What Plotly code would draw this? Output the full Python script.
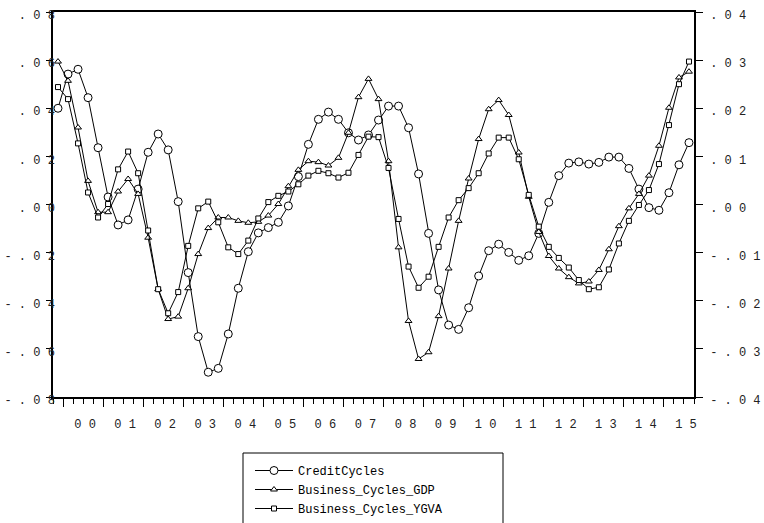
import plotly.graph_objects as go

# Quarterly sample 1999Q4 .. 2015Q3 (64 observations)
start_year, start_quarter = 1999, 4
n_obs = 64

credit_cycles = [
    0.0400, 0.0542, 0.0562, 0.0444, 0.0236, 0.0031, -0.0085, -0.0064,
    0.0064, 0.0217, 0.0293, 0.0227, 0.0012, -0.0283, -0.0549, -0.0697,
    -0.0681, -0.0538, -0.0348, -0.0196, -0.0118, -0.0096, -0.0074, -0.0006,
    0.0116, 0.0250, 0.0354, 0.0384, 0.0354, 0.0298, 0.0268, 0.0289,
    0.0351, 0.0409, 0.0409, 0.0319, 0.0127, -0.0120, -0.0355, -0.0501,
    -0.0519, -0.0429, -0.0297, -0.0192, -0.0165, -0.0199, -0.0232, -0.0213,
    -0.0120, 0.0009, 0.0120, 0.0172, 0.0177, 0.0168, 0.0175, 0.0197,
    0.0197, 0.0150, 0.0064, -0.0013, -0.0024, 0.0049, 0.0165, 0.0257,
]

business_cycles_gdp = [
    0.0297, 0.0257, 0.0160, 0.0049, -0.0016, -0.0016, 0.0027, 0.0053,
    0.0022, -0.0069, -0.0176, -0.0238, -0.0233, -0.0174, -0.0103, -0.0049,
    -0.0027, -0.0027, -0.0034, -0.0038, -0.0036, -0.0023, 0.0001, 0.0038,
    0.0072, 0.0090, 0.0088, 0.0081, 0.0097, 0.0149, 0.0223, 0.0261,
    0.0219, 0.0090, -0.0089, -0.0242, -0.0321, -0.0307, -0.0232, -0.0133,
    -0.0034, 0.0054, 0.0136, 0.0198, 0.0217, 0.0186, 0.0108, 0.0016,
    -0.0057, -0.0107, -0.0133, -0.0151, -0.0164, -0.0160, -0.0136, -0.0093,
    -0.0045, -0.0008, 0.0022, 0.0060, 0.0122, 0.0201, 0.0264, 0.0276,
]

business_cycles_ygva = [
    0.0244, 0.0219, 0.0127, 0.0025, -0.0027, 0.0001, 0.0073, 0.0110,
    0.0065, -0.0054, -0.0176, -0.0226, -0.0182, -0.0086, -0.0008, 0.0006,
    -0.0037, -0.0089, -0.0103, -0.0075, -0.0029, 0.0005, 0.0018, 0.0027,
    0.0042, 0.0060, 0.0070, 0.0065, 0.0056, 0.0066, 0.0103, 0.0141,
    0.0140, 0.0076, -0.0030, -0.0129, -0.0173, -0.0150, -0.0088, -0.0027,
    0.0009, 0.0034, 0.0065, 0.0106, 0.0139, 0.0139, 0.0094, 0.0020,
    -0.0046, -0.0088, -0.0111, -0.0131, -0.0157, -0.0176, -0.0172, -0.0135,
    -0.0081, -0.0034, -0.0001, 0.0030, 0.0084, 0.0165, 0.0250, 0.0297,
]

years = list(range(2000, 2016))
year_labels = ["0 0", "0 1", "0 2", "0 3", "0 4", "0 5", "0 6", "0 7",
               "0 8", "0 9", "1 0", "1 1", "1 2", "1 3", "1 4", "1 5"]

left_ticks = [-0.08, -0.06, -0.04, -0.02, 0.00, 0.02, 0.04, 0.06, 0.08]
left_labels = ["- . 0 8", "- . 0 6", "- . 0 4", "- . 0 2", ". 0 0",
               ". 0 2", ". 0 4", ". 0 6", ". 0 8"]
right_ticks = [-0.04, -0.03, -0.02, -0.01, 0.00, 0.01, 0.02, 0.03, 0.04]
right_labels = ["- . 0 4", "- . 0 3", "- . 0 2", "- . 0 1", ". 0 0",
                ". 0 1", ". 0 2", ". 0 3", ". 0 4"]

# Each observation sits in the middle of its quarter on a fractional-year axis
x = []
for k in range(n_obs):
    idx = (start_quarter - 1) + k
    yr, q = start_year + idx // 4, idx % 4 + 1
    x.append(yr + (q - 0.5) / 4)

x_lo, x_hi = x[0] - 0.125, x[-1] + 0.125
mono = "Liberation Mono, Courier New, monospace"

W, H = 764, 523
L, R, T, B = 53, 70, 12, 126
plot_w = W - L - R  # width of one year = plot_w / 16

fig = go.Figure()
fig.add_trace(go.Scatter(
    x=x, y=credit_cycles, name="CreditCycles", mode="lines+markers",
    line=dict(color="black", width=1),
    marker=dict(symbol="circle", size=8, color="white",
                line=dict(color="black", width=1)),
    yaxis="y"))
fig.add_trace(go.Scatter(
    x=x, y=business_cycles_gdp, name="Business_Cycles_GDP", mode="lines+markers",
    line=dict(color="black", width=1),
    marker=dict(symbol="triangle-up", size=6, color="white",
                line=dict(color="black", width=1)),
    yaxis="y2"))
fig.add_trace(go.Scatter(
    x=x, y=business_cycles_ygva, name="Business_Cycles_YGVA", mode="lines+markers",
    line=dict(color="black", width=1),
    marker=dict(symbol="square", size=5, color="white",
                line=dict(color="black", width=1)),
    yaxis="y2"))

axis_font = dict(family=mono, size=12, color="#222222")

fig.update_layout(
    width=W, height=H,
    margin=dict(l=L, r=R, t=T, b=B, autoexpand=False),
    paper_bgcolor="white", plot_bgcolor="white",
    font=dict(family=mono, size=12, color="black"),
    xaxis=dict(
        range=[x_lo, x_hi], showgrid=False, zeroline=False, automargin=False,
        showline=True, linecolor="black", linewidth=1.5, mirror=True,
        tickmode="array", tickvals=years, ticktext=year_labels,
        ticklabelshift=round(plot_w / 16 / 2) + 2, ticklabelstandoff=7,
        tickfont=axis_font,
        ticks="outside", ticklen=8, tickwidth=1, tickcolor="black",
        minor=dict(ticks="outside", tick0=x_lo, dtick=0.25, ticklen=5,
                   tickwidth=1, tickcolor="black", showgrid=False),
    ),
    yaxis=dict(
        range=[-0.08, 0.08], showgrid=False, zeroline=False, automargin=False,
        showline=True, linecolor="black", linewidth=1.5,
        tickmode="array", tickvals=left_ticks, ticktext=left_labels,
        tickfont=axis_font, ticks="outside", ticklen=5, tickcolor="black",
        ticklabelstandoff=-11, ticklabelshift=3,
    ),
    yaxis2=dict(
        overlaying="y", side="right", anchor="x", automargin=False,
        range=[-0.04, 0.04], showgrid=False, zeroline=False,
        showline=True, linecolor="black", linewidth=1.5,
        tickmode="array", tickvals=right_ticks, ticktext=right_labels,
        tickfont=axis_font, ticks="outside", ticklen=7, tickcolor="black",
        ticklabelstandoff=5, ticklabelshift=3,
    ),
    legend=dict(
        xref="container", yref="container",
        x=250 / W, y=1 - 456 / H, xanchor="left", yanchor="top",
        orientation="v", bgcolor="rgba(0,0,0,0)", borderwidth=0,
        font=dict(family=mono, size=12, color="black"),
        itemwidth=38, tracegroupgap=0,
    ),
    shapes=[dict(
        type="rect", xref="paper", yref="paper",
        x0=(243 - L) / plot_w, x1=(503 - L) / plot_w,
        y0=-(453 - (H - B)) / (H - T - B), y1=-(560 - (H - B)) / (H - T - B),
        line=dict(color="black", width=1), fillcolor="rgba(0,0,0,0)",
    )],
    showlegend=True,
)

fig.write_html("out.html")
